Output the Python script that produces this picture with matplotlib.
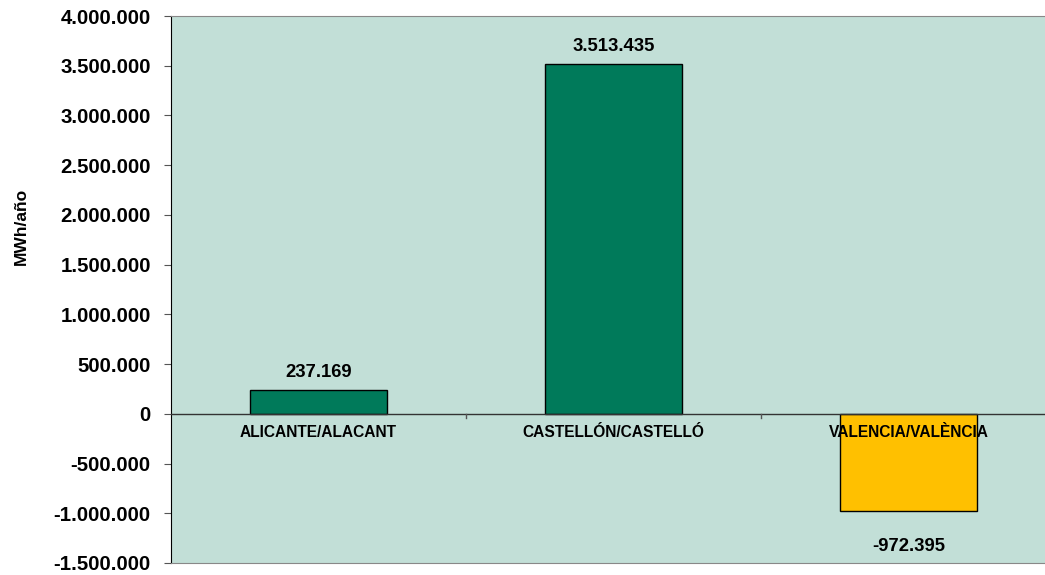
import matplotlib.pyplot as plt
from matplotlib.ticker import FuncFormatter

provincias = ["ALICANTE/ALACANT", "CASTELLÓN/CASTELLÓ", "VALENCIA/VALÈNCIA"]
valores = [237169, 3513435, -972395]
colores = ["#007A5A", "#007A5A", "#FFC000"]
yticks = [-1500000, -1000000, -500000, 0, 500000, 1000000, 1500000,
          2000000, 2500000, 3000000, 3500000, 4000000]

plt.rcParams['font.family'] = ['Liberation Sans', 'DejaVu Sans']
plt.rcParams['font.weight'] = 'bold'


def miles(v, pos=None):
    return f"{int(round(v)):,}".replace(",", ".")


fig = plt.figure(figsize=(10.45, 5.75), dpi=100)
ax = fig.add_axes([171 / 1045, 1 - 563 / 575, 885 / 1045, 547 / 575])
ax.set_facecolor("#C2DFD7")

x = range(len(provincias))
bars = ax.bar(x, valores, width=0.464, color=colores, edgecolor="black", linewidth=1, zorder=2)

ax.set_xlim(-0.5, 2.5)
ax.set_ylim(-1500000, 4000000)
ax.set_yticks(yticks)
ax.yaxis.set_major_formatter(FuncFormatter(miles))
ax.tick_params(axis="y", labelsize=14.7, length=5, color="#555555", pad=9.5)

# eje de categorias sobre el cero
ax.axhline(0, color="#333333", linewidth=1, zorder=3)
ax.set_xticks([])
for b in [0.5, 1.5]:
    ax.plot([b, b], [0, -40000], color="#555555", linewidth=1, zorder=3)
for i, nombre in enumerate(provincias):
    ax.text(i, -190000, nombre, ha="center", va="center", fontsize=11.2, fontweight="bold", zorder=4)

for i, v in enumerate(valores):
    if v >= 0:
        ax.text(i, v + 180000, miles(v), ha="center", va="center", fontsize=13.3, fontweight="bold")
    else:
        ax.text(i, v - 360000, miles(v), ha="center", va="center", fontsize=13.3, fontweight="bold")

for s in ["top", "bottom"]:
    ax.spines[s].set_color("#888888")
ax.spines["left"].set_color("black")
ax.spines["right"].set_visible(False)

fig.text(21 / 1045, 1 - 226 / 575, "MWh/año", rotation=90, ha="center", va="center",
         fontsize=12.5, fontweight="bold")

fig.savefig("out.png", dpi=100)
